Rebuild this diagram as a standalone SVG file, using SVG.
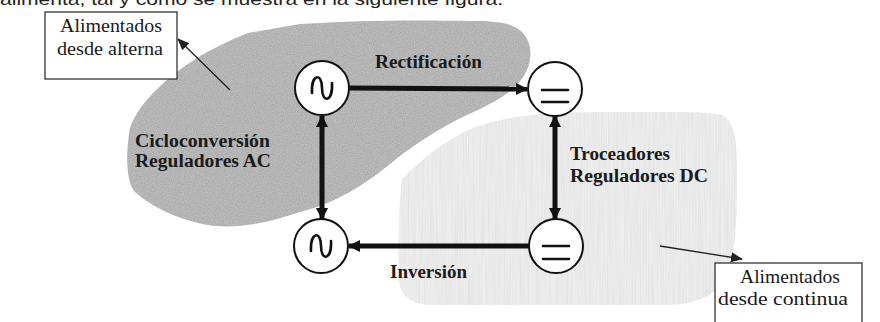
<svg xmlns="http://www.w3.org/2000/svg" width="880" height="322" viewBox="0 0 880 322">
  <defs>
    <style>
      .lbl { font-family: "Liberation Serif", "DejaVu Serif", serif; font-size: 18px; font-weight: bold; fill: #1a1a1a; }
      .box-txt { font-family: "Liberation Serif", "DejaVu Serif", serif; font-size: 18px; fill: #1a1a1a; text-anchor: middle; }
      .body { font-family: "Liberation Sans", Arial, sans-serif; font-size: 17px; fill: #222; }
      .node { fill: #ffffff; stroke: #111; stroke-width: 2; }
      .sym { fill: none; stroke: #111; stroke-width: 2.6; stroke-linecap: round; }
      .flow { stroke: #111; stroke-width: 5; fill: none; }
      .thin { stroke: #222; stroke-width: 1.3; fill: none; }
      .box { fill: #ffffff; stroke: #333; stroke-width: 1.3; }
    </style>
    <marker id="head" viewBox="0 0 12 12" refX="11" refY="6" markerWidth="12" markerHeight="12" markerUnits="userSpaceOnUse" orient="auto-start-reverse">
      <path d="M0,0 L12,6 L0,12 z" fill="#111"/>
    </marker>
    <marker id="head-sm" viewBox="0 0 12 10" refX="11" refY="5" markerWidth="12" markerHeight="10" markerUnits="userSpaceOnUse" orient="auto">
      <path d="M0,0 L12,5 L0,10 z" fill="#222"/>
    </marker>
    <!-- grainy grey for the AC-fed region -->
    <filter id="grain" x="0" y="0" width="100%" height="100%">
      <feTurbulence type="fractalNoise" baseFrequency="0.9" numOctaves="2" seed="3" result="n"/>
      <feColorMatrix in="n" type="matrix" values="0 0 0 0 0  0 0 0 0 0  0 0 0 0 0  0 0 0 0.4 -0.12" result="dots"/>
      <feComposite in="dots" in2="SourceGraphic" operator="in" result="d"/>
      <feMerge><feMergeNode in="SourceGraphic"/><feMergeNode in="d"/></feMerge>
    </filter>
    <!-- vertical streaks for the DC-fed region -->
    <filter id="streak" x="0" y="0" width="100%" height="100%">
      <feTurbulence type="fractalNoise" baseFrequency="0.7 0.015" numOctaves="2" seed="7" result="n"/>
      <feColorMatrix in="n" type="matrix" values="0 0 0 0 0  0 0 0 0 0  0 0 0 0 0  0 0 0 0.16 -0.03" result="dots"/>
      <feComposite in="dots" in2="SourceGraphic" operator="in" result="d"/>
      <feMerge><feMergeNode in="SourceGraphic"/><feMergeNode in="d"/></feMerge>
    </filter>
  </defs>

  <rect width="880" height="322" fill="#ffffff"/>

  <!-- running text line above the figure -->
  <text class="body" x="0" y="5" textLength="503" lengthAdjust="spacingAndGlyphs">alimenta, tal y como se muestra en la siguiente figura.</text>

  <!-- shaded regions -->
  <g id="region-ac">
    <path filter="url(#grain)" fill="#bcbcbc" d="M248,33 L300,24 C360,20 420,20 470,21 C495,21 512,22 522,32 C532,42 533,58 526,72 C518,88 500,100 478,110 C450,122 420,140 395,160 C370,180 345,200 300,212 C270,222 245,228 215,226 C185,222 155,210 135,192 C125,180 126,150 130,128 C140,100 170,75 200,56 C220,45 235,38 248,33 Z"/>
  </g>
  <g id="region-dc">
    <path filter="url(#streak)" fill="#efefef" d="M402,180 C420,160 450,135 482,125 C520,113 560,112 620,112 C670,112 705,111 722,115 C735,122 737,140 737,170 C737,205 737,240 730,270 C722,292 700,304 670,305 L430,305 C410,304 400,295 399,280 C398,250 398,210 402,180 Z"/>
  </g>

  <!-- connectors -->
  <g id="connectors">
    <line class="flow" x1="349" y1="88" x2="527" y2="89" marker-end="url(#head)"/>
    <line class="flow" x1="529" y1="246" x2="349" y2="246" marker-end="url(#head)"/>
    <line class="flow" x1="322" y1="116" x2="322" y2="219" marker-start="url(#head)" marker-end="url(#head)"/>
    <line class="flow" x1="555" y1="116" x2="555" y2="219" marker-start="url(#head)" marker-end="url(#head)"/>
    <line class="thin" x1="230" y1="90" x2="178" y2="39" marker-end="url(#head-sm)"/>
    <line class="thin" x1="660" y1="246" x2="742" y2="259" marker-end="url(#head-sm)"/>
  </g>

  <!-- converter nodes -->
  <g id="ac-top">
    <circle class="node" cx="322" cy="88" r="27"/>
    <path class="sym" d="M312,93 C311,74 322,72 322,88 C322,104 333,102 332,83"/>
  </g>
  <g id="dc-top">
    <circle class="node" cx="555" cy="89" r="27"/>
    <line class="sym" x1="542" y1="90" x2="568" y2="90"/>
    <line class="sym" x1="542" y1="102" x2="568" y2="102"/>
  </g>
  <g id="ac-bottom">
    <circle class="node" cx="321" cy="246" r="27"/>
    <path class="sym" d="M311,251 C310,232 321,230 321,246 C321,262 332,260 331,241"/>
  </g>
  <g id="dc-bottom">
    <circle class="node" cx="556" cy="246" r="27"/>
    <line class="sym" x1="543" y1="246" x2="569" y2="246"/>
    <line class="sym" x1="543" y1="259" x2="569" y2="259"/>
  </g>

  <!-- conversion labels -->
  <g id="labels">
    <text class="lbl" x="375" y="68" textLength="107" lengthAdjust="spacingAndGlyphs">Rectificación</text>
    <text class="lbl" x="135" y="147" textLength="135" lengthAdjust="spacingAndGlyphs">Cicloconversión</text>
    <text class="lbl" x="135" y="167" textLength="136" lengthAdjust="spacingAndGlyphs">Reguladores AC</text>
    <text class="lbl" x="570" y="160" textLength="100" lengthAdjust="spacingAndGlyphs">Troceadores</text>
    <text class="lbl" x="570" y="182" textLength="138" lengthAdjust="spacingAndGlyphs">Reguladores DC</text>
    <text class="lbl" x="390" y="278" textLength="77" lengthAdjust="spacingAndGlyphs">Inversión</text>
  </g>

  <!-- callout boxes -->
  <g id="box-alterna">
    <rect class="box" x="45" y="12" width="132" height="67"/>
    <text class="box-txt" x="111" y="32" textLength="102" lengthAdjust="spacingAndGlyphs">Alimentados</text>
    <text class="box-txt" x="110" y="55" textLength="106" lengthAdjust="spacingAndGlyphs">desde alterna</text>
  </g>
  <g id="box-continua">
    <rect class="box" x="715" y="263" width="147" height="70"/>
    <text class="box-txt" x="790" y="283" textLength="100" lengthAdjust="spacingAndGlyphs">Alimentados</text>
    <text class="box-txt" x="783" y="305" textLength="130" lengthAdjust="spacingAndGlyphs">desde continua</text>
  </g>
</svg>
